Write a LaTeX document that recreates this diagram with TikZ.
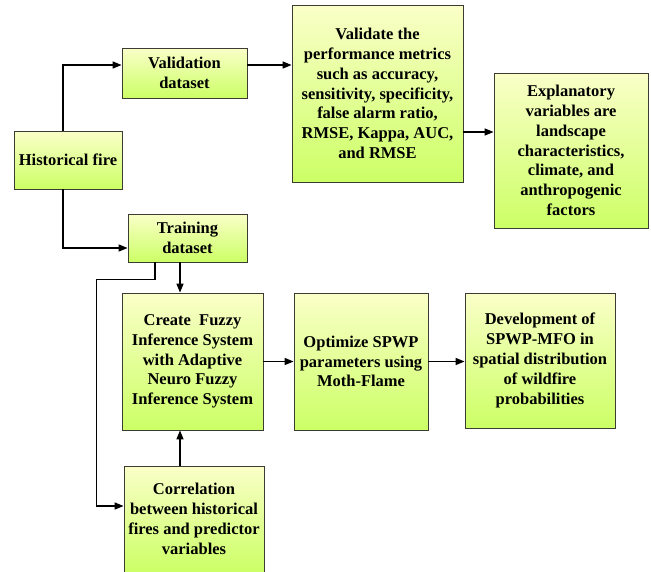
\documentclass[tikz,border=0pt]{standalone}
\usepackage{fontspec}
\setmainfont{Liberation Serif}
\usetikzlibrary{arrows.meta}
\begin{document}
\begin{tikzpicture}[x=1pt,y=-1pt,
  box/.style={draw={rgb,255:red,60;green,60;blue,50}, line width=0.8pt,
    top color={rgb,255:red,250;green,255;blue,200},
    bottom color={rgb,255:red,204;green,255;blue,102},
    align=center, inner sep=0pt,
    font=\fontsize{16.5}{19.8}\selectfont\bfseries},
  arr/.style={line width=1.5pt, -{Triangle[length=9pt,width=7pt]}}]
\useasboundingbox (0,0) rectangle (651,571);
\clip (0,0) rectangle (651,571);
\node[box, minimum width=108pt, minimum height=58pt] (hist) at (68,160) {Historical fire};
\node[box, minimum width=125pt, minimum height=50pt] (val) at (184.5,73) {Validation\\dataset};
\node[box, minimum width=119pt, minimum height=48pt] (train) at (187.5,238) {Training\\dataset};
\node[box, minimum width=171pt, minimum height=177pt] (valid) at (377.5,93.5) {Validate the\\performance metrics\\such as accuracy,\\sensitivity, specificity,\\false alarm ratio,\\RMSE, Kappa, AUC,\\and RMSE};
\node[box, minimum width=154pt, minimum height=155pt] (expl) at (571,150.5) {Explanatory\\variables are\\landscape\\characteristics,\\climate, and\\anthropogenic\\factors};
\node[box, minimum width=141pt, minimum height=137pt] (create) at (192.5,361.5) {Create\ \ Fuzzy\\Inference System\\with Adaptive\\Neuro Fuzzy\\Inference System};
\node[box, minimum width=134pt, minimum height=137pt] (opt) at (361,361.5) {Optimize SPWP\\parameters using\\Moth-Flame};
\node[box, minimum width=150pt, minimum height=135pt] (dev) at (540,360.5) {Development of\\SPWP-MFO in\\spatial distribution\\of wildfire\\probabilities};
\node[box, minimum width=140pt, minimum height=106pt] (corr) at (194,519) {Correlation\\between historical\\fires and predictor\\variables};
% connectors
\draw[arr] ([xshift=-5pt]hist.north) |- ([yshift=8pt]val.west);
\draw[arr] ([xshift=-5pt]hist.south) |- ([yshift=-10pt]train.west);
\draw[arr] ([yshift=8pt]val.east) coordinate (a1) -- (a1 -| valid.west);
\draw[arr] ([yshift=-38.5pt]valid.east) coordinate (a2) -- (a2 -| expl.west);
\draw[arr] ([xshift=-7.5pt]train.south) coordinate (a3) -- (a3 |- create.north);
\draw[arr] ([xshift=-32.5pt]train.south) -- ++(0,17) -| ([xshift=-27pt,yshift=13pt]corr.west) -- ([yshift=13pt]corr.west);
\draw[arr] ([xshift=-14pt]corr.north) coordinate (a4) -- (a4 |- create.south);
\draw[arr] (create.east) -- (opt.west);
\draw[arr] (opt.east) -- (opt.east -| dev.west);
\end{tikzpicture}
\end{document}
